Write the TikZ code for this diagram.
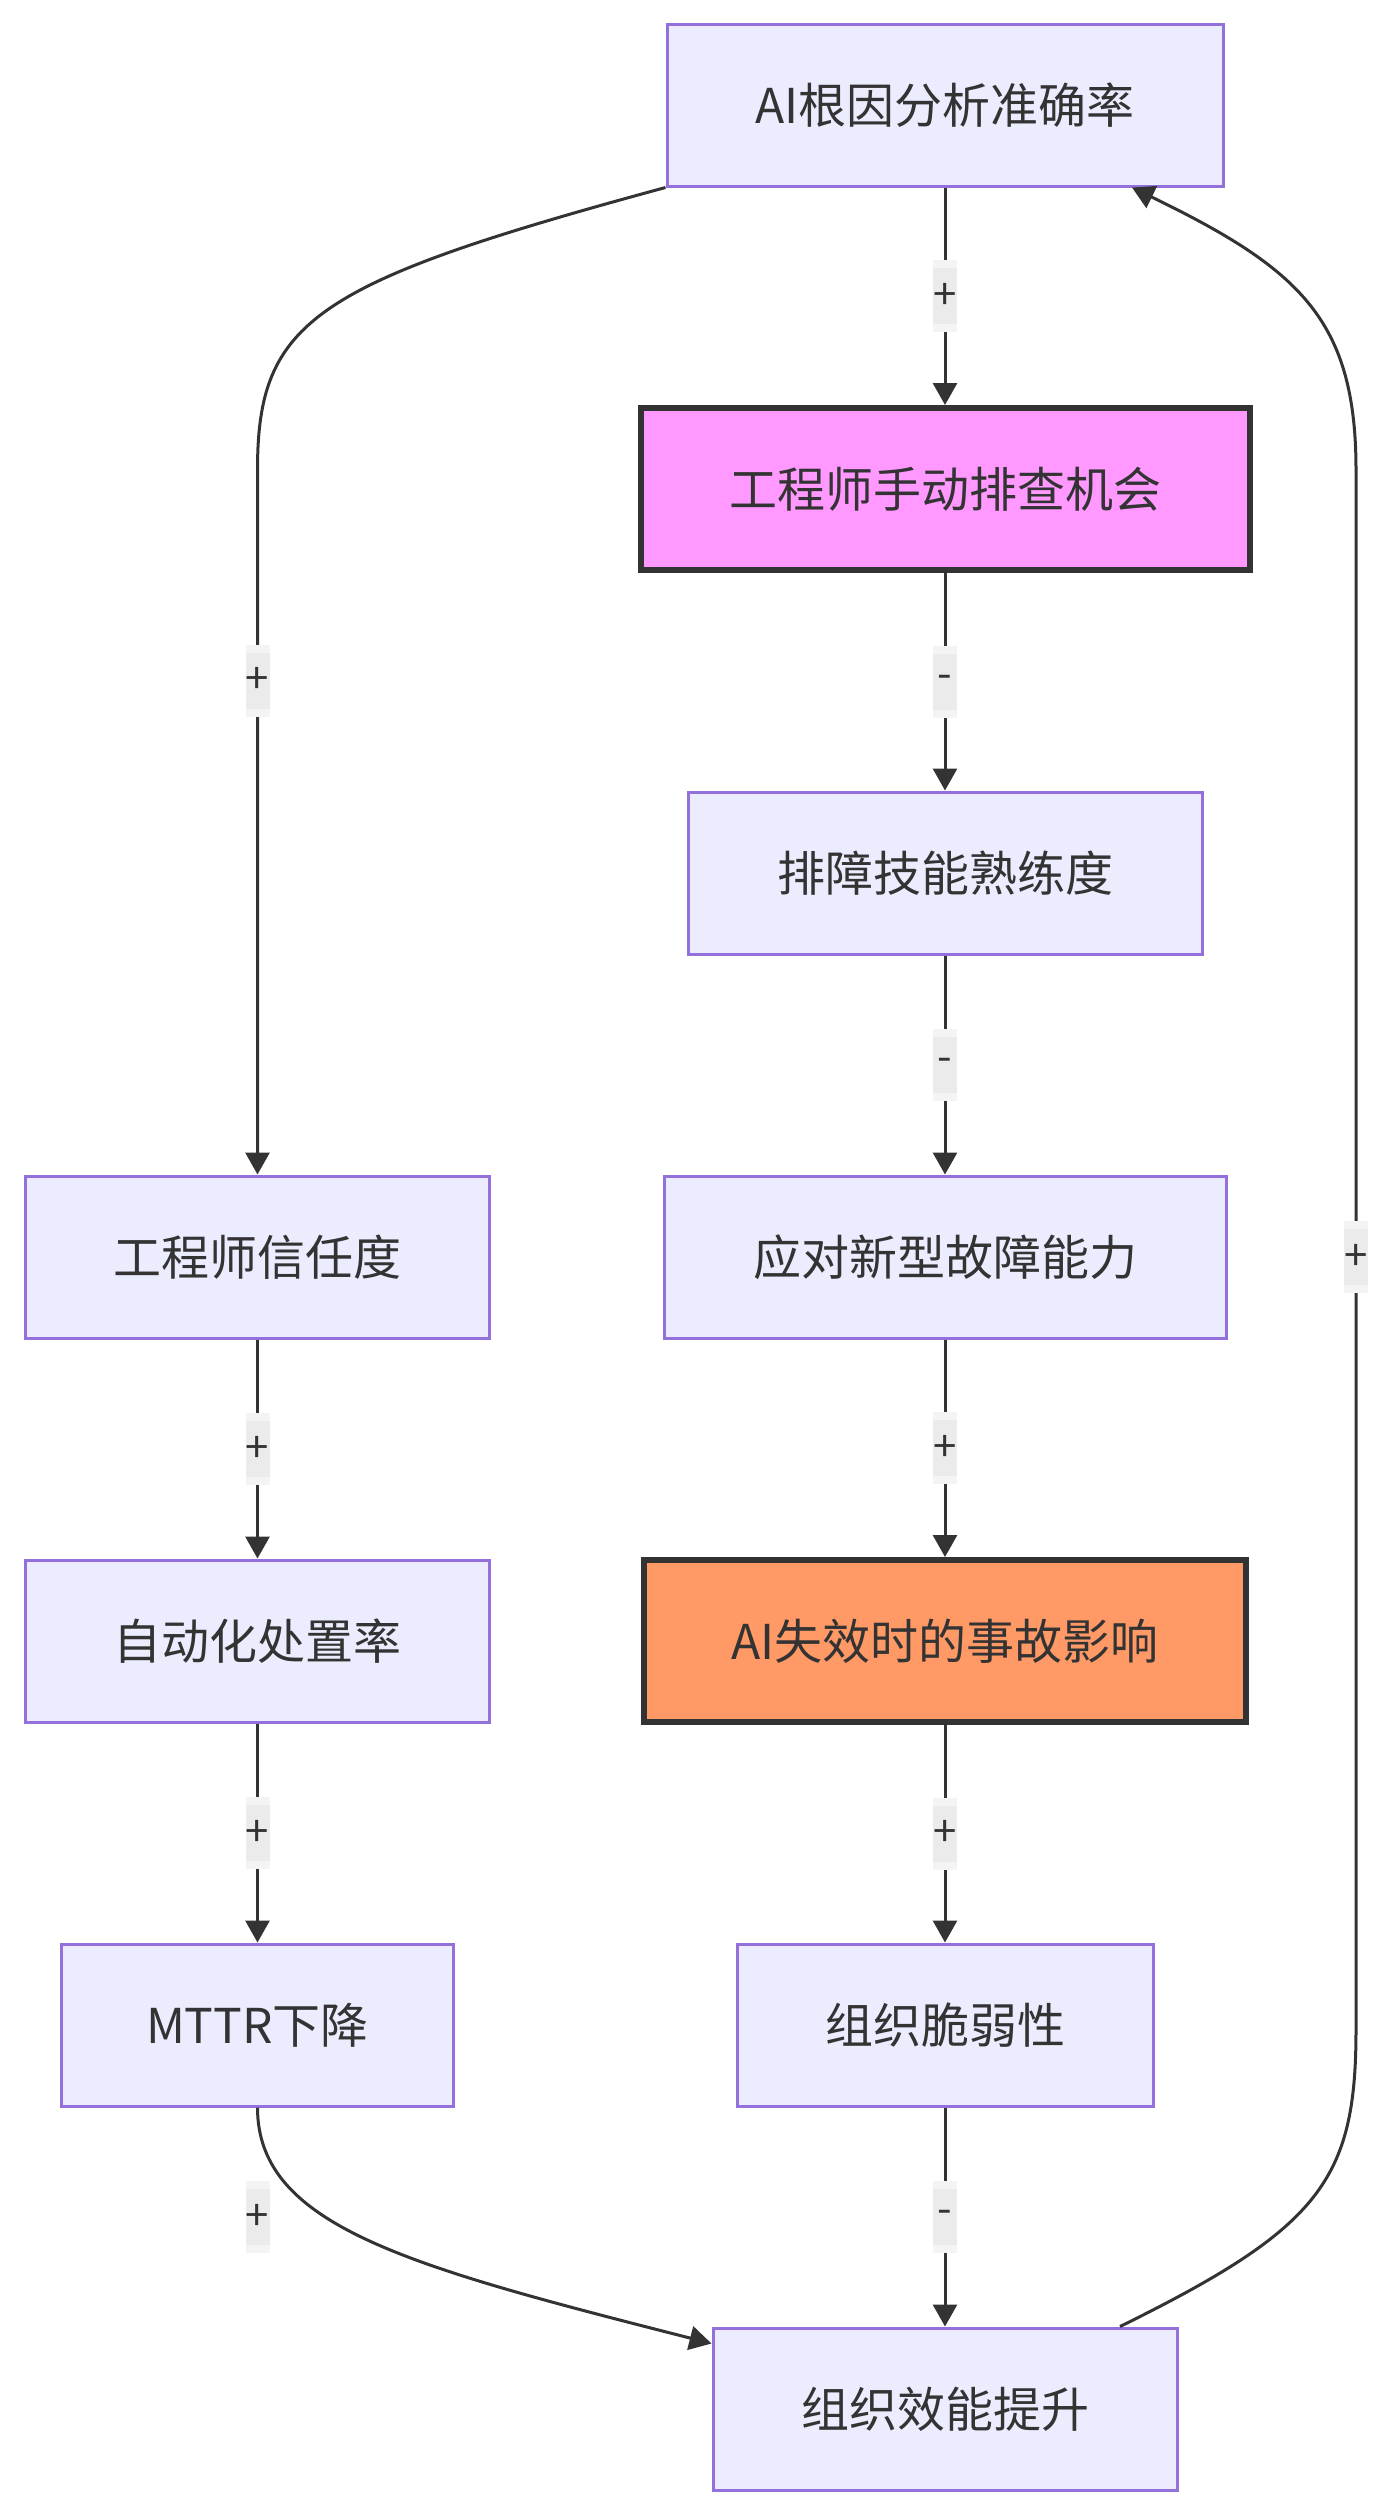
\documentclass[tikz,border=0pt]{standalone}
\usepackage{fontspec}
\setmainfont{Noto Sans CJK SC}
\usetikzlibrary{arrows.meta,calc}
\definecolor{nodefill}{HTML}{ECECFF}
\definecolor{nodeline}{HTML}{9370DB}
\definecolor{txt}{HTML}{333333}
\definecolor{pinkfill}{HTML}{FF99FF}
\definecolor{orangefill}{HTML}{FF9966}
\definecolor{lblin}{HTML}{EBEBEB}
\definecolor{lblout}{HTML}{F4F4F4}
\begin{document}
\begin{tikzpicture}[x=1pt,y=-1pt,
  box/.style={draw=nodeline, fill=nodefill, line width=3pt, inner sep=0pt, minimum height=162pt, text=txt, font=\fontsize{48}{58}\selectfont},
  hot/.style={box, draw=txt, line width=6pt},
  edge/.style={draw=txt, line width=3pt, -{Triangle[length=22pt,width=24pt]}},
  lblo/.style={fill=lblout, minimum width=24pt, minimum height=72pt, inner sep=0pt},
  lbl/.style={fill=lblin, minimum width=24pt, minimum height=56pt, inner sep=0pt, text=txt, font=\fontsize{42}{50}\selectfont},
]
\useasboundingbox (0,0) rectangle (1392,2514);

\node[box, minimum width=556pt] (b1) at (945,105) {AI根因分析准确率};
\node[hot, fill=pinkfill, minimum width=609pt] (b2) at (945,489) {工程师手动排查机会};
\node[box, minimum width=514pt] (b3) at (945,873) {排障技能熟练度};
\node[box, minimum width=562pt] (b4) at (945,1257) {应对新型故障能力};
\node[box, minimum width=464pt] (b5) at (257.5,1257) {工程师信任度};
\node[box, minimum width=464pt] (b6) at (257.5,1641) {自动化处置率};
\node[hot, fill=orangefill, minimum width=602pt] (b7) at (945,1641) {AI失效时的事故影响};
\node[box, minimum width=392pt] (b8) at (257.5,2025) {MTTR下降};
\node[box, minimum width=416pt] (b9) at (945,2025) {组织脆弱性};
\node[box, minimum width=464pt] (b10) at (945,2409) {组织效能提升};

% straight edges
\draw[edge] (b1.south) -- (b2.north) node[lblo, pos=0.5] (l1o) {} node[lbl, pos=0.5] (l1) {+};
\draw[edge] (b2.south) -- (b3.north) node[lblo, pos=0.5] (l2o) {} node[lbl, pos=0.5] (l2) {-};
\draw[edge] (b3.south) -- (b4.north) node[lblo, pos=0.5] (l3o) {} node[lbl, pos=0.5] (l3) {-};
\draw[edge] (b4.south) -- (b7.north) node[lblo, pos=0.5] (l4o) {} node[lbl, pos=0.5] (l4) {+};
\draw[edge] (b7.south) -- (b9.north) node[lblo, pos=0.5] (l5o) {} node[lbl, pos=0.5] (l5) {+};
\draw[edge] (b9.south) -- (b10.north) node[lblo, pos=0.5] (l6o) {} node[lbl, pos=0.5] (l6) {-};
\draw[edge] (b5.south) -- (b6.north) node[lblo, pos=0.5] (l8o) {} node[lbl, pos=0.5] (l8) {+};
\draw[edge] (b6.south) -- (b8.north) node[lblo, pos=0.5] (l9o) {} node[lbl, pos=0.5] (l9) {+};

% curved edges
\draw[edge] (b1.south west) .. controls (314,283) and (257.5,320) .. (257.5,470) -- (b5.north);
\node[lblo] (l7o) at (257.5,680.5) {};
\node[lbl] (l7) at (257.5,680.5) {+};

\draw[edge] (b8.south) .. controls (257.5,2226) and (407.5,2266) .. ($(b10.north west)+(0,17)$);
\node[lblo] (l10o) at (257.5,2217) {};
\node[lbl] (l10) at (257.5,2217) {+};

\draw[edge] ($(b10.north)+(175,0)$) .. controls (1320,2228) and (1356,2180) .. (1356,2030) -- (1356,470) .. controls (1356,320) and (1300,269) .. ($(b1.south)+(187,0)$);
\node[lblo] (l11o) at (1356,1257) {};
\node[lbl] (l11) at (1356,1257) {+};
\end{tikzpicture}
\end{document}
